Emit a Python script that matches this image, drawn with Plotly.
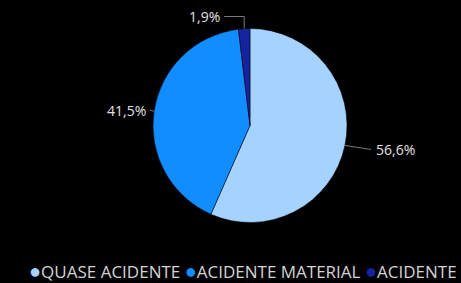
import math
import plotly.graph_objects as go

categories = ["QUASE ACIDENTE", "ACIDENTE MATERIAL", "ACIDENTE PESSOAL"]
values = [56.6, 41.5, 1.9]
colors = ["#A6D2FF", "#128DFF", "#15249E"]

W, H = 461, 283
CX, CY, R = 250, 125.5, 97

def px(x):
    return x / W

def py(y):
    return 1 - y / H

fig = go.Figure()
fig.add_trace(go.Pie(
    labels=categories, values=values, sort=False, direction="clockwise",
    rotation=0, marker=dict(colors=colors, line=dict(color="#000000", width=0.5)),
    textinfo="none", hoverinfo="label+percent", showlegend=False,
    domain=dict(x=[px(CX - R), px(CX + R)], y=[py(CY + R), py(CY - R)]),
))

shapes = []
annotations = []
total = sum(values)
cum = 0
lab_font = dict(color="#e0e0e0", size=14, family="Open Sans")
for cat, v in zip(categories, values):
    mid = (cum + v / 2) / total
    cum += v
    th = 2 * math.pi * mid
    ex, ey = CX + R * math.sin(th), CY - R * math.cos(th)
    txt = f"{v:.1f}%".replace(".", ",")
    if v < 5:
        ly = CY - R - 12
        path = f"M {px(ex)} {py(ey)} L {px(ex)} {py(ly)} L {px(ex - 20)} {py(ly)}"
        shapes.append(dict(type="path", xref="paper", yref="paper", path=path,
                           line=dict(color="#7a7a7a", width=1)))
        annotations.append(dict(x=px(ex - 22), y=py(ly), xref="paper", yref="paper",
                                text=txt, showarrow=False, xanchor="right", yanchor="middle",
                                font=lab_font))
    elif math.sin(th) > 0:
        ly = ey + 4
        path = f"M {px(ex)} {py(ey)} L {px(ex + 26)} {py(ly)}"
        shapes.append(dict(type="path", xref="paper", yref="paper", path=path,
                           line=dict(color="#7a7a7a", width=1)))
        annotations.append(dict(x=px(ex + 29), y=py(ly), xref="paper", yref="paper",
                                text=txt, showarrow=False, xanchor="left", yanchor="middle",
                                font=lab_font))
    else:
        ly = ey - 1
        path = f"M {px(ex)} {py(ey)} L {px(ex - 4)} {py(ly)}"
        shapes.append(dict(type="path", xref="paper", yref="paper", path=path,
                           line=dict(color="#7a7a7a", width=1)))
        annotations.append(dict(x=px(ex - 6), y=py(ly), xref="paper", yref="paper",
                                text=txt, showarrow=False, xanchor="right", yanchor="middle",
                                font=lab_font))

legend_text = "".join(
    f"<span style='color:{c};font-size:20px'>●</span>{cat} " for cat, c in zip(categories, colors)
)
annotations.append(dict(x=px(27), y=py(270), xref="paper", yref="paper",
                        text=legend_text, showarrow=False, xanchor="left", yanchor="middle",
                        font=dict(color="#d4d4d4", size=17, family="Open Sans")))

fig.update_layout(
    width=W, height=H, margin=dict(l=0, r=0, t=0, b=0),
    paper_bgcolor="#000000", plot_bgcolor="#000000",
    shapes=shapes, annotations=annotations, showlegend=False,
)
fig.write_html(
    "out.html",
    config={"displayModeBar": False},
    post_script="document.body.style.margin='0';document.body.style.background='#000';document.body.style.overflow='hidden';",
)
